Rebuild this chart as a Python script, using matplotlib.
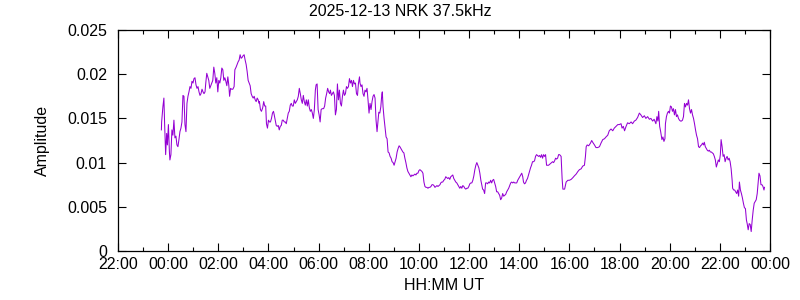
import matplotlib
matplotlib.use("Agg")
import matplotlib.pyplot as plt
from matplotlib.ticker import MultipleLocator, FuncFormatter

plt.rcParams['font.family'] = ['Liberation Sans', 'DejaVu Sans']

# time in hours after 00:00 UT on 2025-12-13, amplitude
hours_night = [-0.27, -0.26, -0.21, -0.17, -0.14, -0.10, -0.06, -0.03, 0.01, 0.05,
               0.07, 0.11, 0.15, 0.19, 0.23, 0.27, 0.31, 0.35, 0.39, 0.43,
               0.47, 0.51, 0.55, 0.59, 0.63, 0.67, 0.71, 0.75, 0.79, 0.83,
               0.87, 0.91, 0.95, 0.99, 1.03, 1.07, 1.11, 1.15, 1.19, 1.23,
               1.27, 1.31, 1.35, 1.39, 1.43, 1.47, 1.50, 1.54, 1.58, 1.62,
               1.66, 1.70, 1.74, 1.78, 1.82, 1.86, 1.90, 1.94, 1.98, 2.02,
               2.06, 2.10, 2.14, 2.18, 2.22, 2.26, 2.30, 2.34, 2.38, 2.42,
               2.45, 2.49, 2.53, 2.58, 2.63, 2.66, 2.71, 2.75, 2.79, 2.83,
               2.87, 2.91, 2.95, 2.99, 3.03, 3.07, 3.11, 3.15, 3.19, 3.23,
               3.27, 3.31, 3.35, 3.39, 3.43, 3.47, 3.51, 3.55, 3.59, 3.63]
amp_night = [0.0137, 0.0146, 0.0163, 0.0173, 0.0143, 0.0109, 0.0133, 0.0120, 0.0143, 0.0112,
             0.0103, 0.0109, 0.0137, 0.0131, 0.0148, 0.0128, 0.0130, 0.0120, 0.0118, 0.0126,
             0.0135, 0.0139, 0.0146, 0.0176, 0.0175, 0.0143, 0.0135, 0.0167, 0.0175, 0.0180,
             0.0186, 0.0184, 0.0192, 0.0190, 0.0195, 0.0196, 0.0188, 0.0184, 0.0186, 0.0180,
             0.0176, 0.0178, 0.0183, 0.0180, 0.0178, 0.0180, 0.0190, 0.0201, 0.0197, 0.0193,
             0.0184, 0.0187, 0.0190, 0.0193, 0.0208, 0.0201, 0.0190, 0.0196, 0.0180, 0.0193,
             0.0190, 0.0196, 0.0207, 0.0205, 0.0193, 0.0196, 0.0192, 0.0187, 0.0197, 0.0187,
             0.0175, 0.0184, 0.0183, 0.0183, 0.0186, 0.0205, 0.0208, 0.0211, 0.0214, 0.0216,
             0.0222, 0.0218, 0.0219, 0.0221, 0.0222, 0.0216, 0.0211, 0.0203, 0.0193, 0.0190,
             0.0187, 0.0178, 0.0175, 0.0173, 0.0175, 0.0171, 0.0169, 0.0173, 0.0171, 0.0167]

hours_morning = [3.64, 3.68, 3.72, 3.77, 3.81, 3.85, 3.89, 3.92, 3.96, 4.00,
                 4.04, 4.08, 4.12, 4.16, 4.20, 4.23, 4.27, 4.31, 4.35, 4.39,
                 4.43, 4.47, 4.51, 4.55, 4.59, 4.63, 4.67, 4.71, 4.75, 4.79,
                 4.83, 4.87, 4.91, 4.95, 4.99, 5.03, 5.07, 5.11, 5.15, 5.19,
                 5.23, 5.27, 5.31, 5.35, 5.39, 5.43, 5.47, 5.51, 5.55, 5.59,
                 5.63, 5.67, 5.71, 5.75, 5.79, 5.83, 5.87, 5.90, 5.94, 5.98,
                 6.02, 6.06, 6.10, 6.14, 6.20, 6.24, 6.28, 6.32, 6.36, 6.40,
                 6.44, 6.47, 6.51, 6.55, 6.59, 6.63, 6.67, 6.71, 6.75, 6.79,
                 6.83, 6.87, 6.91, 6.95, 6.99, 7.03, 7.07, 7.11, 7.15, 7.19,
                 7.23, 7.27, 7.31, 7.35, 7.39, 7.43, 7.47, 7.51, 7.55, 7.59,
                 7.63]
amp_morning = [0.0169, 0.0160, 0.0158, 0.0162, 0.0169, 0.0164, 0.0164, 0.0144, 0.0139, 0.0148,
               0.0146, 0.0146, 0.0150, 0.0156, 0.0158, 0.0154, 0.0148, 0.0142, 0.0141, 0.0142,
               0.0137, 0.0141, 0.0142, 0.0148, 0.0148, 0.0146, 0.0146, 0.0144, 0.0150, 0.0156,
               0.0158, 0.0165, 0.0167, 0.0164, 0.0164, 0.0171, 0.0167, 0.0169, 0.0171, 0.0175,
               0.0184, 0.0178, 0.0171, 0.0167, 0.0176, 0.0169, 0.0165, 0.0171, 0.0164, 0.0171,
               0.0162, 0.0158, 0.0160, 0.0156, 0.0150, 0.0160, 0.0182, 0.0188, 0.0189, 0.0160,
               0.0154, 0.0146, 0.0160, 0.0161, 0.0161, 0.0164, 0.0173, 0.0178, 0.0184, 0.0180,
               0.0178, 0.0182, 0.0176, 0.0178, 0.0180, 0.0176, 0.0154, 0.0160, 0.0189, 0.0171,
               0.0182, 0.0167, 0.0164, 0.0175, 0.0182, 0.0176, 0.0178, 0.0186, 0.0184, 0.0186,
               0.0195, 0.0190, 0.0193, 0.0186, 0.0193, 0.0189, 0.0190, 0.0178, 0.0176, 0.0190,
               0.0197]

hours_midday = [7.65, 7.69, 7.73, 7.77, 7.81, 7.85, 7.89, 7.93, 7.97, 8.01,
                8.05, 8.09, 8.13, 8.17, 8.21, 8.25, 8.29, 8.33, 8.36, 8.40,
                8.44, 8.48, 8.52, 8.54, 8.57, 8.61, 8.65, 8.69, 8.73, 8.77,
                8.81, 8.85, 8.89, 8.93, 8.97, 9.01, 9.05, 9.09, 9.13, 9.17,
                9.21, 9.24, 9.28, 9.32, 9.36, 9.40, 9.44, 9.48, 9.52, 9.56,
                9.60, 9.64, 9.68, 9.72, 9.76, 9.80, 9.84, 9.88, 9.92, 9.96,
                10.00, 10.04, 10.08, 10.12, 10.16, 10.20, 10.24, 10.28, 10.32, 10.36,
                10.40, 10.44, 10.48, 10.52, 10.56, 10.60, 10.64, 10.68, 10.72, 10.76,
                10.80, 10.84, 10.87, 10.91, 10.95, 10.99, 11.03, 11.07, 11.11, 11.15,
                11.19, 11.23, 11.27, 11.31, 11.35, 11.39, 11.43, 11.47, 11.51, 11.55,
                11.59]
amp_midday = [0.0190, 0.0186, 0.0188, 0.0178, 0.0175, 0.0182, 0.0180, 0.0184, 0.0171, 0.0156,
              0.0167, 0.0160, 0.0169, 0.0175, 0.0177, 0.0173, 0.0148, 0.0135, 0.0144, 0.0157,
              0.0156, 0.0163, 0.0177, 0.0180, 0.0163, 0.0150, 0.0139, 0.0129, 0.0127, 0.0112,
              0.0111, 0.0107, 0.0105, 0.0101, 0.0100, 0.0097, 0.0101, 0.0105, 0.0112, 0.0116,
              0.0119, 0.0118, 0.0116, 0.0114, 0.0112, 0.0111, 0.0105, 0.0100, 0.0094, 0.0090,
              0.0088, 0.0086, 0.0084, 0.0086, 0.0085, 0.0086, 0.0087, 0.0086, 0.0088, 0.0088,
              0.0091, 0.0092, 0.0091, 0.0090, 0.0088, 0.0078, 0.0073, 0.0072, 0.0072, 0.0071,
              0.0072, 0.0072, 0.0073, 0.0075, 0.0075, 0.0074, 0.0072, 0.0073, 0.0074, 0.0073,
              0.0074, 0.0075, 0.0077, 0.0078, 0.0078, 0.0080, 0.0081, 0.0084, 0.0083, 0.0082,
              0.0083, 0.0081, 0.0084, 0.0085, 0.0086, 0.0082, 0.0080, 0.0078, 0.0077, 0.0075,
              0.0073]

hours_afternoon = [11.63, 11.67, 11.71, 11.75, 11.79, 11.83, 11.87, 11.91, 11.95, 11.99,
                   12.03, 12.07, 12.11, 12.15, 12.19, 12.23, 12.27, 12.31, 12.35, 12.39,
                   12.43, 12.47, 12.51, 12.54, 12.58, 12.62, 12.66, 12.70, 12.74, 12.78,
                   12.82, 12.86, 12.90, 12.94, 12.98, 13.02, 13.06, 13.10, 13.14, 13.18,
                   13.22, 13.26, 13.30, 13.34, 13.38, 13.42, 13.46, 13.50, 13.54, 13.58,
                   13.62, 13.66, 13.70, 13.74, 13.78, 13.82, 13.86, 13.90, 13.94, 13.98,
                   14.02, 14.06, 14.10, 14.14, 14.17, 14.21, 14.25, 14.29, 14.33, 14.37,
                   14.41, 14.45, 14.49, 14.53, 14.57, 14.61, 14.65, 14.69, 14.73, 14.77,
                   14.81, 14.85, 14.89, 14.93, 14.97, 15.01, 15.05, 15.09, 15.13, 15.17,
                   15.21, 15.25, 15.29, 15.33, 15.37, 15.41, 15.45, 15.49, 15.53, 15.57]
amp_afternoon = [0.0071, 0.0073, 0.0071, 0.0074, 0.0073, 0.0071, 0.0070, 0.0071, 0.0071, 0.0073,
                 0.0076, 0.0077, 0.0077, 0.0080, 0.0085, 0.0092, 0.0097, 0.0100, 0.0097, 0.0094,
                 0.0088, 0.0080, 0.0074, 0.0070, 0.0069, 0.0065, 0.0077, 0.0077, 0.0076, 0.0078,
                 0.0077, 0.0080, 0.0077, 0.0080, 0.0081, 0.0077, 0.0073, 0.0067, 0.0067, 0.0065,
                 0.0063, 0.0058, 0.0060, 0.0065, 0.0062, 0.0063, 0.0064, 0.0067, 0.0069, 0.0071,
                 0.0074, 0.0077, 0.0078, 0.0077, 0.0078, 0.0077, 0.0077, 0.0077, 0.0080, 0.0082,
                 0.0084, 0.0086, 0.0088, 0.0084, 0.0078, 0.0076, 0.0077, 0.0080, 0.0082, 0.0086,
                 0.0090, 0.0094, 0.0097, 0.0101, 0.0101, 0.0102, 0.0107, 0.0109, 0.0108, 0.0107,
                 0.0108, 0.0106, 0.0109, 0.0105, 0.0109, 0.0107, 0.0109, 0.0097, 0.0097, 0.0097,
                 0.0098, 0.0099, 0.0100, 0.0101, 0.0100, 0.0102, 0.0105, 0.0104, 0.0105, 0.0109]

hours_evening = [15.61, 15.67, 15.71, 15.74, 15.81, 15.87, 15.94, 16.00, 16.07, 16.14,
                 16.20, 16.27, 16.34, 16.40, 16.47, 16.53, 16.60, 16.64, 16.67, 16.71,
                 16.77, 16.84, 16.89, 16.93, 17.00, 17.06, 17.13, 17.20, 17.26, 17.33,
                 17.40, 17.46, 17.53, 17.59, 17.66, 17.73, 17.79, 17.86, 17.93, 17.99,
                 18.06, 18.10, 18.15, 18.20, 18.26, 18.32, 18.39, 18.46, 18.52, 18.59,
                 18.65, 18.72, 18.79, 18.85, 18.92, 18.99, 19.05, 19.12, 19.19, 19.25,
                 19.32, 19.38, 19.45, 19.49, 19.53, 19.56, 19.60, 19.64, 19.69, 19.73,
                 19.77, 19.81, 19.83, 19.87, 19.91, 19.95, 19.99, 20.03, 20.07, 20.11,
                 20.15, 20.19, 20.23, 20.27, 20.31, 20.35, 20.39, 20.43, 20.47, 20.51,
                 20.55, 20.59, 20.63, 20.67, 20.71, 20.75, 20.79, 20.83, 20.87, 20.91,
                 20.95, 20.99, 21.03, 21.07, 21.11, 21.15, 21.19, 21.23, 21.27, 21.31,
                 21.35, 21.38, 21.42, 21.46, 21.50, 21.54, 21.58, 21.62, 21.66, 21.70,
                 21.74, 21.78, 21.82, 21.86, 21.90, 21.94, 21.98, 22.02, 22.05, 22.09,
                 22.13, 22.17, 22.21, 22.25, 22.29, 22.33, 22.37, 22.41, 22.45, 22.49,
                 22.51, 22.55, 22.59, 22.63, 22.67, 22.71, 22.75, 22.78, 22.82, 22.86,
                 22.90, 22.94, 22.98, 23.02, 23.06, 23.09, 23.13, 23.17, 23.21, 23.25,
                 23.29, 23.33, 23.37, 23.41, 23.45, 23.49, 23.52, 23.56, 23.60, 23.64,
                 23.68, 23.72, 23.76, 23.78]
amp_evening = [0.0109, 0.0107, 0.0082, 0.0070, 0.0070, 0.0078, 0.0080, 0.0080, 0.0081, 0.0083,
               0.0085, 0.0087, 0.0090, 0.0092, 0.0093, 0.0096, 0.0097, 0.0107, 0.0118, 0.0120,
               0.0119, 0.0122, 0.0125, 0.0123, 0.0120, 0.0117, 0.0117, 0.0118, 0.0122, 0.0126,
               0.0127, 0.0129, 0.0131, 0.0136, 0.0138, 0.0136, 0.0139, 0.0141, 0.0143, 0.0143,
               0.0144, 0.0139, 0.0141, 0.0136, 0.0141, 0.0145, 0.0144, 0.0146, 0.0144, 0.0147,
               0.0148, 0.0151, 0.0156, 0.0154, 0.0151, 0.0153, 0.0150, 0.0152, 0.0149, 0.0150,
               0.0147, 0.0149, 0.0144, 0.0152, 0.0147, 0.0158, 0.0141, 0.0135, 0.0126, 0.0129,
               0.0124, 0.0127, 0.0144, 0.0152, 0.0156, 0.0158, 0.0156, 0.0164, 0.0163, 0.0158,
               0.0161, 0.0154, 0.0160, 0.0152, 0.0154, 0.0150, 0.0148, 0.0147, 0.0147, 0.0148,
               0.0152, 0.0167, 0.0163, 0.0167, 0.0165, 0.0171, 0.0161, 0.0156, 0.0160, 0.0154,
               0.0150, 0.0144, 0.0137, 0.0131, 0.0127, 0.0118, 0.0117, 0.0119, 0.0120, 0.0122,
               0.0120, 0.0123, 0.0118, 0.0116, 0.0114, 0.0113, 0.0114, 0.0112, 0.0112, 0.0111,
               0.0110, 0.0107, 0.0103, 0.0095, 0.0099, 0.0103, 0.0101, 0.0109, 0.0126, 0.0118,
               0.0107, 0.0109, 0.0101, 0.0105, 0.0107, 0.0103, 0.0105, 0.0101, 0.0093, 0.0080,
               0.0071, 0.0069, 0.0069, 0.0067, 0.0065, 0.0069, 0.0062, 0.0078, 0.0069, 0.0065,
               0.0060, 0.0054, 0.0049, 0.0048, 0.0035, 0.0031, 0.0024, 0.0031, 0.0030, 0.0022,
               0.0035, 0.0046, 0.0054, 0.0056, 0.0058, 0.0065, 0.0075, 0.0088, 0.0085, 0.0075,
               0.0075, 0.0073, 0.0069, 0.0072]

hours = hours_night + hours_morning + hours_midday + hours_afternoon + hours_evening
amp = amp_night + amp_morning + amp_midday + amp_afternoon + amp_evening

fig = plt.figure(figsize=(8, 3), dpi=100)
ax = fig.add_axes([118 / 800, 1 - 251 / 300, (770 - 118) / 800, (251 - 30) / 300])

ax.plot(hours, amp, color='#9400D3', linewidth=0.75)

ax.set_xlim(-2, 24)
ax.set_ylim(0, 0.025)
ax.xaxis.set_major_locator(MultipleLocator(2))
ax.xaxis.set_minor_locator(MultipleLocator(1))
ax.yaxis.set_major_locator(MultipleLocator(0.005))
ax.xaxis.set_major_formatter(FuncFormatter(lambda v, p: f"{int(round(v)) % 24:02d}:00"))
ax.yaxis.set_major_formatter(FuncFormatter(lambda v, p: f"{v:g}"))

ax.tick_params(which='both', direction='in', top=True, right=True, labelsize=11.5)
ax.tick_params(axis='x', pad=4)
ax.tick_params(axis='y', pad=8)
ax.tick_params(which='major', length=6, width=0.8)
ax.tick_params(which='minor', length=3, width=0.8)
for s in ax.spines.values():
    s.set_linewidth(0.9)

ax.set_xlabel("HH:MM UT", fontsize=11.5, labelpad=5)
ax.set_ylabel("Amplitude", fontsize=11.5, labelpad=12)
fig.text(0.5, 0.96, "2025-12-13 NRK 37.5kHz", ha='center', va='center', fontsize=11.5)

fig.savefig("out.png", dpi=100)
